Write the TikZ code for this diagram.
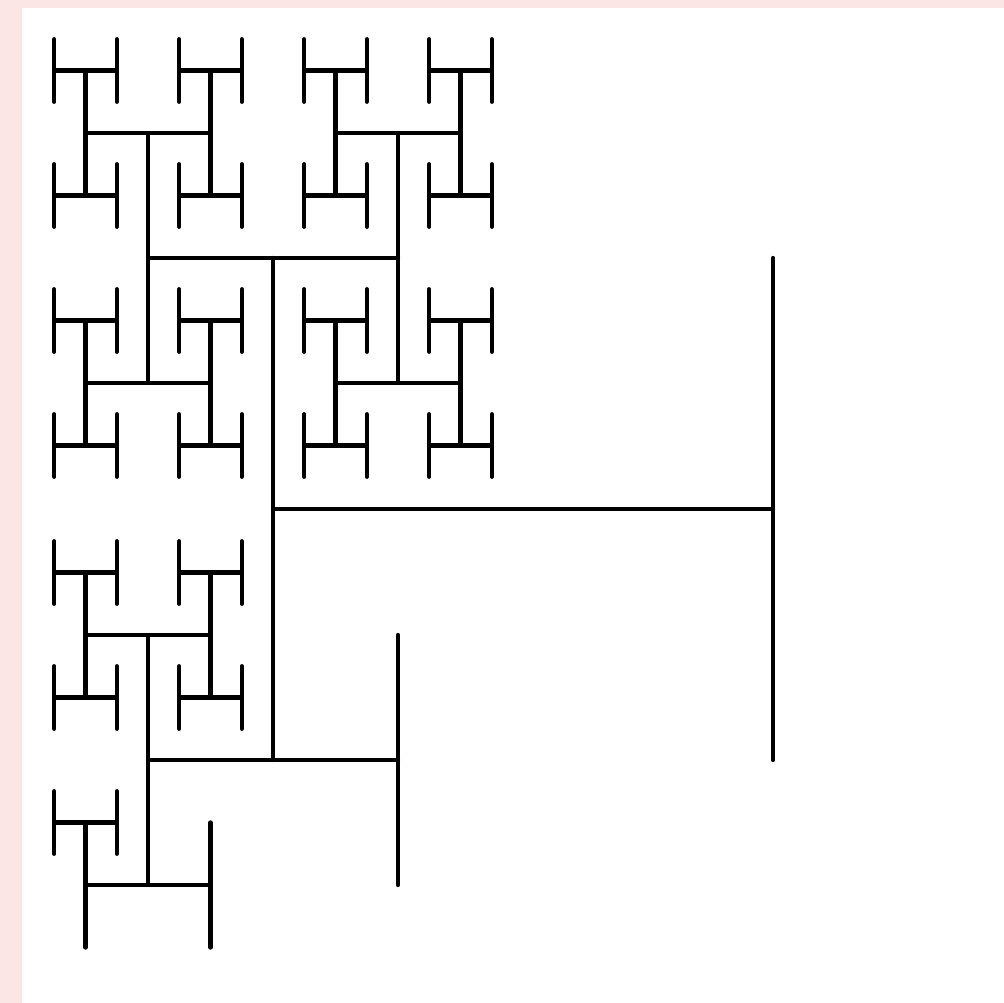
\documentclass[tikz,border=0pt]{standalone}
\definecolor{bgpink}{HTML}{FBE6E4}
\tikzset{
  hline/.style={line width=4.3pt, line cap=round, black},
  hh/.pic={\draw[hline] (-#1,0) -- (#1,0) (-#1,-#1) -- (-#1,#1) (#1,-#1) -- (#1,#1);}
}
\begin{document}
\begin{tikzpicture}[x=1pt,y=-1pt]
\fill[bgpink] (0,0) rectangle (1004,1003);
\fill[white] (22,8) rectangle (1004,1003);
\useasboundingbox (0,0) rectangle (1004,1003);
% level 1
\draw[hline] (273,509) -- (773,509) (273,258) -- (273,760) (773,258) -- (773,760);
% level 2
\foreach \cx/\cy in {273/258, 273/760}
  \pic at (\cx,\cy) {hh=125};
% level 3
\foreach \cx/\cy in {148/133, 398/133, 148/383, 398/383, 148/635, 148/885}
  \pic at (\cx,\cy) {hh=62.5};
% level 4
\foreach \cx/\cy in {148/133, 398/133, 148/383, 398/383, 148/635}{
  \foreach \dx in {-62.5,62.5}{
    \foreach \dy in {-62.5,62.5}{
      \pic at (\cx+\dx,\cy+\dy) {hh=31.25};
    }
  }
}
\pic at (85.5,822.5) {hh=31.25};
\end{tikzpicture}
\end{document}
